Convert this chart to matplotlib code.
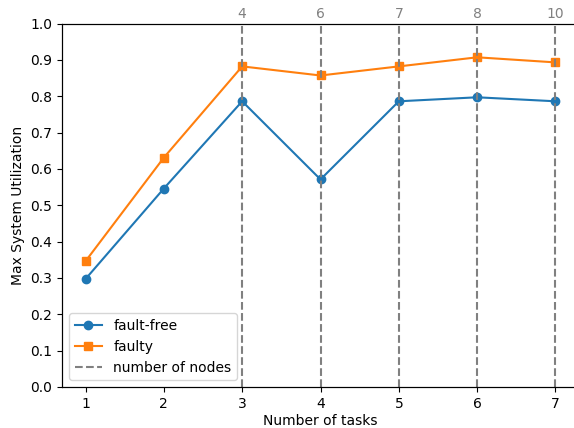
import matplotlib
matplotlib.use("Agg")
import matplotlib.pyplot as plt

# tasks on the x axis, utilization for each scenario
tasks = [1, 2, 3, 4, 5, 6, 7]
fault_free = [0.297, 0.546, 0.786, 0.571, 0.786, 0.797, 0.786]
faulty = [0.346, 0.631, 0.882, 0.857, 0.882, 0.907, 0.893]

# node counts marked with vertical lines
node_tasks = [3, 4, 5, 6, 7]
node_counts = ['4', '6', '7', '8', '10']

fig = plt.figure(figsize=(5.74, 4.28), dpi=100)
# axes run slightly past the right edge of the figure
ax1 = fig.add_axes([62 / 574, 41 / 428, 517 / 574, 363.5 / 428])

ax1.plot(tasks, fault_free, marker='o', label='fault-free')
ax1.plot(tasks, faulty, marker='s', label='faulty')
for i, x in enumerate(node_tasks):
    ax1.axvline(x, color='gray', linestyle='--', linewidth=1.5,
                label='number of nodes' if i == 0 else None)

ax1.set_ylim(0, 1.0)
ax1.set_xlim(0.7, 7.3)
ax1.set_yticks([i / 10 for i in range(11)])
ax1.set_xlabel("Number of tasks", labelpad=2.5)
ax1.set_ylabel("Max System Utilization")
ax1.legend(loc='lower left')

# node counts along the top
ax2 = ax1.twiny()
ax2.set_xlim(ax1.get_xlim())
ax2.set_xticks(node_tasks)
ax2.set_xticklabels(node_counts, color='gray')
ax2.tick_params(axis='x', length=0, pad=2)

fig.savefig("out.png", dpi=100)
